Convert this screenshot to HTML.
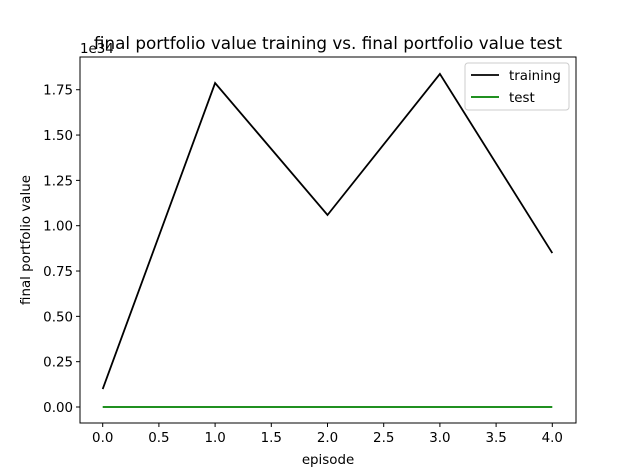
<!DOCTYPE html>
<html><head><style>
body{margin:0;background:#fff}
svg{font-family:"DejaVu Sans","Liberation Sans",sans-serif;display:block}
</style></head><body>
<svg id="c" width="640" height="476"></svg>
<script>
const categories=[0,1,2,3,4];
const training=[0.099,1.787,1.059,1.837,0.849];
const test=[0,0,0,0,0];
const xTicks=[0,0.5,1,1.5,2,2.5,3,3.5,4];
const xTickLabels=["0.0","0.5","1.0","1.5","2.0","2.5","3.0","3.5","4.0"];
const yTicks=[0,0.25,0.5,0.75,1,1.25,1.5,1.75];
const yTickLabels=["0.00","0.25","0.50","0.75","1.00","1.25","1.50","1.75"];
const L=80,R=576,T=57,B=423;
const X=v=>102.7+v*112.4;
const Y=v=>407-v*181.3;
const s=document.getElementById('c');
const NS='http://www.w3.org/2000/svg';
function mk(t,a,txt){const e=document.createElementNS(NS,t);for(const k in a)e.setAttribute(k,a[k]);if(txt!=null)e.textContent=txt;s.appendChild(e);return e;}
let e;
e=mk('rect',{x:L,y:T,width:R-L,height:B-T,fill:'none',stroke:'#000','stroke-width':1});


xTicks.forEach((v,i)=>{
 e=mk('line',{x1:X(v),x2:X(v),y1:B,y2:B+4,stroke:'#000'});
 
 
 e=mk('text',{x:X(v),y:B+19,'font-size':13.4,'text-anchor':'middle'},xTickLabels[i]);
 
 
});
yTicks.forEach((v,i)=>{
 e=mk('line',{x1:L-4,x2:L,y1:Y(v),y2:Y(v),stroke:'#000'});
 
 
 e=mk('text',{x:L-7,y:Y(v)+5,'font-size':13.4,'text-anchor':'end'},yTickLabels[i]);
 
 
});
e=mk('polyline',{points:categories.map((c,i)=>X(c)+','+Y(training[i])).join(' '),fill:'none',stroke:'#000','stroke-width':1.8});


e=mk('polyline',{points:categories.map((c,i)=>X(c)+','+Y(test[i])).join(' '),fill:'none',stroke:'#008000','stroke-width':1.8});


e=mk('text',{x:328,y:49,'font-size':16.8,'text-anchor':'middle'},'final portfolio value training vs. final portfolio value test');


e=mk('text',{x:80,y:53,'font-size':13.4},'1e34');


e=mk('text',{x:328,y:464,'font-size':13.4,'text-anchor':'middle'},'episode');


e=mk('text',{x:30,y:240,'font-size':13.4,'text-anchor':'middle',transform:'rotate(-90 30 240)'},'final portfolio value');


e=mk('rect',{x:465,y:63,width:104,height:47,fill:'#fff',stroke:'#ccc',rx:3});


e=mk('line',{x1:471,x2:499,y1:75,y2:75,stroke:'#000','stroke-width':1.8});


e=mk('text',{x:509,y:80,'font-size':13.4},'training');


e=mk('line',{x1:471,x2:499,y1:97,y2:97,stroke:'#008000','stroke-width':1.8});


e=mk('text',{x:509,y:102,'font-size':13.4},'test');


</script>
</body></html>
